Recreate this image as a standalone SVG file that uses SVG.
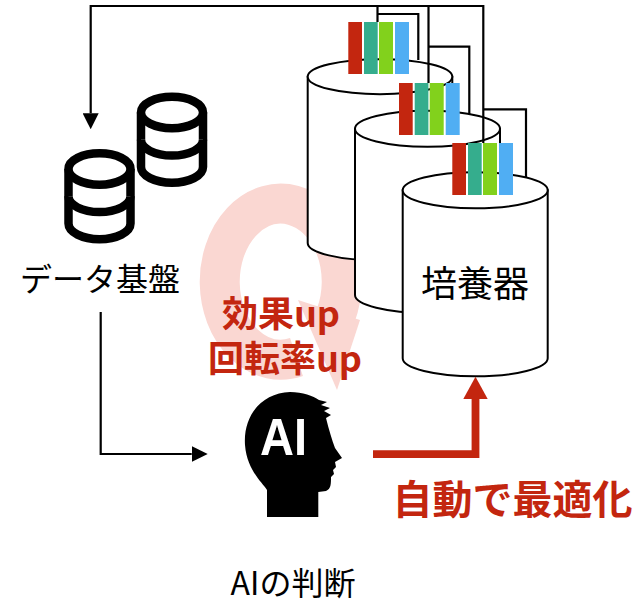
<svg xmlns="http://www.w3.org/2000/svg" xmlns:xlink="http://www.w3.org/1999/xlink" width="639" height="604" viewBox="0 0 639 604">
  <style>
    .wire { fill: none; stroke: #000; stroke-width: 2.2; }
    .cyl { fill: #fff; stroke: #000; stroke-width: 2; }
    .db { fill: #fff; stroke: #000; stroke-width: 8.5; }
    .lbl { font-family: "Noto Sans CJK JP", "Noto Sans", sans-serif; fill: #000; }
    .hot { font-family: "Noto Sans CJK JP", "Noto Sans", sans-serif; fill: #C3260F; font-weight: bold; }
    .r { fill: #C3260F; }
    .t { fill: #35AD8D; }
    .g { fill: #82D11C; }
    .b { fill: #50AEF3; }
  </style>
  <defs>
    <marker id="arrowBlack" markerUnits="userSpaceOnUse" viewBox="0 0 16 16" refX="0" refY="8" markerWidth="16" markerHeight="16" orient="auto">
      <path d="M0,0 L16,8 L0,16 Z" fill="#000"/>
    </marker>
    <!-- stacked-disk database glyph, 71 x 95 -->
    <g id="dbIcon">
      <path class="db" d="M4.5,20 V74.5 A31,15.75 0 0 0 66.5,74.5 V20"/>
      <path class="db" fill="none" d="M4.5,47.3 A31,15.75 0 0 0 66.5,47.3"/>
      <ellipse class="db" cx="35.5" cy="20" rx="31" ry="15.75"/>
    </g>
    <!-- four-colour sensor strip -->
    <g id="strip">
      <rect class="r" x="0" y="0" width="13.7" height="52"/>
      <rect class="t" x="15.7" y="0" width="13.7" height="52"/>
      <rect class="g" x="30.7" y="0" width="14" height="52"/>
      <rect class="b" x="46.7" y="0" width="14" height="52"/>
    </g>
  </defs>

  <!-- faint improvement cycle behind the labels -->
  <g id="cycle">
    <path d="M296.5,357 A61,78 0 1 1 335.8,315.2" fill="none" stroke="#FAD7D2" stroke-width="40"/>
    <polygon points="298,300 360,320 337,390" fill="#FAD7D2"/>
  </g>

  <!-- incubators -->
  <g id="incubator1">
    <path class="cyl" d="M307.7,76.7 V243 A72.3,17.5 0 0 0 452.3,243 V76.7 Z"/>
    <ellipse class="cyl" cx="380" cy="76.7" rx="72.3" ry="17.5"/>
  </g>
  <g id="incubator2">
    <path class="cyl" d="M355,128.8 V295 A72.5,18 0 0 0 500,295 V128.8 Z"/>
    <ellipse class="cyl" cx="427.5" cy="128.8" rx="72.5" ry="18"/>
  </g>
  <g id="incubator3">
    <path class="cyl" d="M402.7,190.3 V358.3 A72.5,18 0 0 0 547.7,358.3 V190.3 Z"/>
    <ellipse class="cyl" cx="475.2" cy="190.3" rx="72.5" ry="18"/>
    <text class="lbl" x="475" y="297" font-size="36" text-anchor="middle">培養器</text>
  </g>

  <!-- connectors -->
  <g id="connectors">
    <!-- sensor wiring back to the data platform -->
    <path class="wire" d="M483.3,143 V6 H90.7 V113.3" marker-end="url(#arrowBlack)"/>
    <path class="wire" d="M377.5,6 V22 M377.5,14 H418.3 V60"/>
    <path class="wire" d="M428.5,6 V83 M428.5,46.7 H469.3 V114"/>
    <path class="wire" d="M483.3,109.3 H526 V177.5"/>
    <!-- data platform to AI -->
    <path class="wire" d="M100.7,312 V454 H191.7" marker-end="url(#arrowBlack)"/>
    <!-- AI control of the incubators -->
    <path d="M373,454.2 H475.5 V398" fill="none" stroke="#C3260F" stroke-width="7.8"/>
    <polygon points="463.3,399 487.7,399 475.5,376.7" fill="#C3260F"/>
  </g>

  <!-- sensor strips on the incubator lids -->
  <g id="sensors1"><use xlink:href="#strip" x="348.3" y="22"/></g>
  <g id="sensors2"><use xlink:href="#strip" x="399" y="83"/></g>
  <g id="sensors3"><use xlink:href="#strip" x="452.3" y="143"/></g>

  <!-- data platform -->
  <g id="dataPlatform">
    <use xlink:href="#dbIcon" x="136.5" y="92.5"/>
    <use xlink:href="#dbIcon" x="64" y="149"/>
    <text class="lbl" x="100" y="291" font-size="32" text-anchor="middle">データ基盤</text>
  </g>

  <!-- AI -->
  <g id="ai">
    <path fill="#000" d="M267,517 L267,490 C262,482 247,470 245,445 C243,415 262,393 290,392 C303,392 313,396 319,400 L327,402 L321,405 L330,408 L324,411 L331,415 L326,418 C329,430 332,440 335,448 L342,458 L335,462 L336,467 L333,470 L334,474 L331,477 C331,484 331,489 326,491 L318.3,492 L318.3,517 Z"/>
    <text x="283.5" y="455" font-family="'Liberation Sans', Arial, sans-serif" font-weight="bold" font-size="52" fill="#fff" text-anchor="middle" textLength="47" lengthAdjust="spacingAndGlyphs">AI</text>
    <text class="lbl" x="293" y="595" font-size="32" text-anchor="middle">AIの判断</text>
  </g>

  <!-- outcome labels -->
  <g id="effects">
    <text class="hot" x="281" y="327" font-size="36" text-anchor="middle">効果up</text>
    <text class="hot" x="285" y="372" font-size="36" text-anchor="middle">回転率up</text>
  </g>
  <g id="optimise">
    <text class="hot" x="512.5" y="514" font-size="40" text-anchor="middle">自動で最適化</text>
  </g>
</svg>
